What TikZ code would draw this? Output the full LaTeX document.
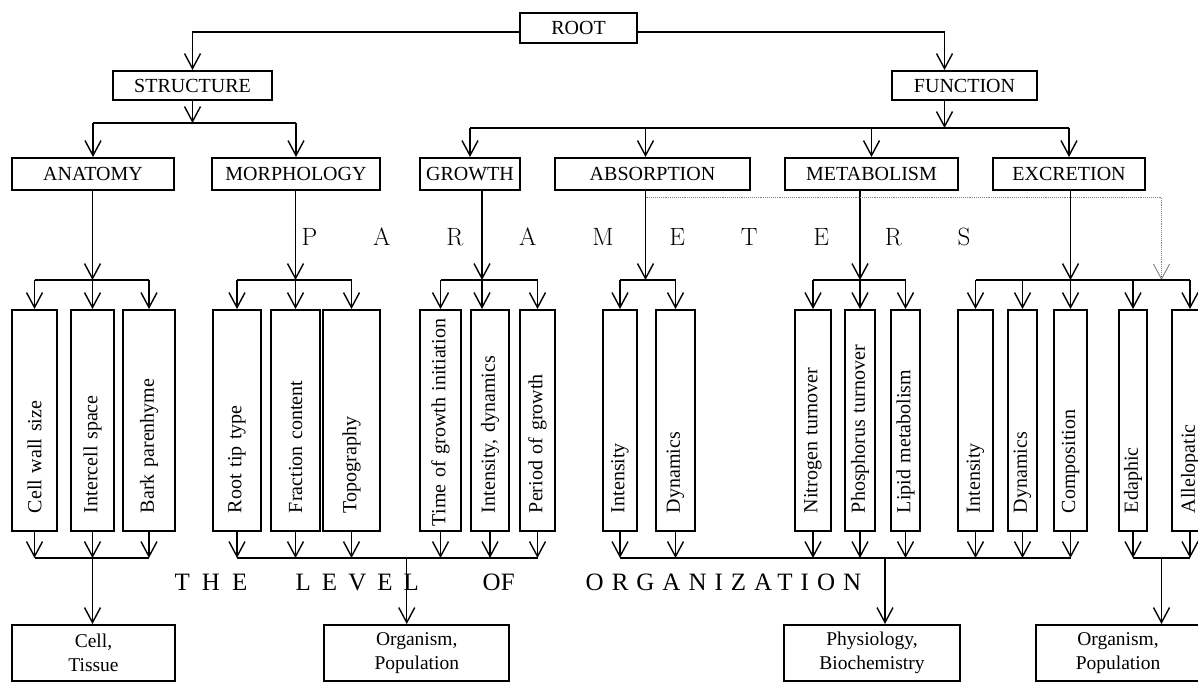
\documentclass[tikz,border=0pt]{standalone}
\usepackage{fontspec}
\newfontfamily\tnrfont{Liberation Serif}
\newcommand\pgap{\kern55.8pt}
\usetikzlibrary{arrows.meta,calc,positioning}

\begin{document}
\begin{tikzpicture}[x=1pt,y=-1pt,->,>={Straight Barb[length=15pt,width=16pt]},
                    line width=1.4pt,
                    boxed/.style={draw,-,line width=2pt,inner sep=0pt,
                      font=\tnrfont\fontsize{20}{24}\selectfont},
                    partbox/.style={boxed,minimum height=32pt},
                    parambox/.style={boxed,rotate=90,minimum width=221pt,
                      inner xsep=18pt,text width=185pt,align=left},
                    tierbox/.style={boxed,minimum height=56pt,align=center,
                      font=\tnrfont\fontsize{19.5}{24.5}\selectfont},
                    spaced/.style={anchor=base west,inner sep=0pt,
                      font=\tnrfont\fontsize{25}{30}\selectfont\addfontfeature{LetterSpace=#1}},
                    dotlink/.style={densely dotted,gray,line width=0.9pt}]
    \useasboundingbox (0,0) rectangle (1198,683);
    \clip (0,0) rectangle (1198,683);

    \node [boxed,minimum width=117pt,minimum height=30pt] (root)      at (578.5,28)  {ROOT};
    \node [boxed,minimum width=159pt,minimum height=29pt] (structure) at (192.5,85.5) {STRUCTURE};
    \node [boxed,minimum width=145pt,minimum height=29pt] (function)  at (964.5,85.5) {FUNCTION};

    \node [partbox,minimum width=162pt] (anatomy)    at (93,174)    {ANATOMY};
    \node [partbox,minimum width=168pt] (morphology) at (296,174)   {MORPHOLOGY};
    \node [partbox,minimum width=100pt] (growth)     at (470,174)   {GROWTH};
    \node [partbox,minimum width=195pt] (absorption) at (652.5,174) {ABSORPTION};
    \node [partbox,minimum width=173pt] (metabolism) at (871.5,174) {METABOLISM};
    \node [partbox,minimum width=152pt] (excretion)  at (1069,174)  {EXCRETION};

    \node [parambox,minimum height=45pt] (cellwall)    at (34.5,420.5)   {Cell wall size};
    \node [parambox,minimum height=43pt] (intercell)   at (92.5,420.5)   {Intercell space};
    \node [parambox,minimum height=52pt] (bark)        at (149,420.5)    {Bark parenhyme};
    \node [parambox,minimum height=48pt] (roottip)     at (237,420.5)    {Root tip type};
    \node [parambox,minimum height=49pt] (fraction)    at (295.5,420.5)  {Fraction content};
    \node [parambox,minimum height=57pt] (topography)  at (351.5,420.5)  {Topography};
    \node [parambox,minimum height=41pt,inner xsep=5pt,text width=211pt]
                                         (initiation)  at (440.5,420.5)  {Time of growth initiation};
    \node [parambox,minimum height=38pt] (intdyn)      at (490,420.5)    {Intensity, dynamics};
    \node [parambox,minimum height=35pt] (period)      at (537.5,420.5)  {Period of growth};
    \node [parambox,minimum height=34pt] (absint)      at (620,420.5)    {Intensity};
    \node [parambox,minimum height=39pt] (absdyn)      at (675.5,420.5)  {Dynamics};
    \node [parambox,minimum height=36pt] (nitrogen)    at (813,420.5)    {Nitrogen turnover};
    \node [parambox,minimum height=30pt] (phosphorus)  at (860,420.5)    {Phosphorus turnover};
    \node [parambox,minimum height=29pt] (lipid)       at (905.5,420.5)  {Lipid metabolism};
    \node [parambox,minimum height=35pt] (excint)      at (975.5,420.5)  {Intensity};
    \node [parambox,minimum height=29pt] (excdyn)      at (1022.5,420.5) {Dynamics};
    \node [parambox,minimum height=33pt] (composition) at (1070.5,420.5) {Composition};
    \node [parambox,minimum height=28pt] (edaphic)     at (1133,420.5)   {Edaphic};
    \node [parambox,minimum height=36pt] (allelo)      at (1190,420.5)   {Allelopatic};

    \node [tierbox,minimum width=163pt] (cell)       at (93.5,653)   {Cell,\\Tissue};
    \node [tierbox,minimum width=185pt] (organism)   at (416.75,653) {Organism,\\Population};
    \node [tierbox,minimum width=176pt] (physiology) at (872,653)    {Physiology,\\Biochemistry};
    \node [tierbox,minimum width=164pt] (organism2)  at (1118,653)   {Organism,\\Population};

    \node [anchor=base west,inner sep=0pt,font=\fontsize{25}{30}\selectfont]
           (parameters) at (301,245) {P\pgap A\pgap R\pgap A\pgap M\pgap E\pgap T\pgap E\pgap R\pgap S};
    \node [spaced=48] (the)          at (174,590) {THE};
    \node [spaced=44] (levelword)    at (295,590) {LEVEL};
    \node [spaced=0]  (of)           at (482,590) {OF};
    \node [spaced=32] (organization) at (585,590) {ORGANIZATION};

    \coordinate (sbus) at (0,123);
    \coordinate (fbus) at (0,128);
    \coordinate (dotrow) at (0,197);
    \coordinate (pbus) at (0,280);
    \coordinate (lbus) at (0,558);
    \coordinate (fx) at ([xshift=-20pt]function.north);
    \coordinate (gx) at ([xshift=12pt]growth.south);
    \coordinate (ax) at ([xshift=-7pt]absorption.south);
    \coordinate (dx) at ($(edaphic)!0.5!(allelo)$);
    \coordinate (ox) at ([xshift=-10pt]organism.north);
    \coordinate (px) at ([xshift=13pt]physiology.north);

    \draw ([yshift=-4pt]root.west) -| (structure.north);
    \draw ([yshift=-4pt]root.east) -| (fx);

    \draw (structure.south) -- (structure.south |- sbus);
    \draw [-] (anatomy.north |- sbus) -- (morphology.north |- sbus);
    \draw (anatomy.north |- sbus) -- (anatomy.north);
    \draw (morphology.north |- sbus) -- (morphology.north);

    \draw (fx |- function.south) -- (fx |- fbus);
    \draw [-] (growth.north |- fbus) -- (excretion.north |- fbus);
    \draw (growth.north |- fbus) -- (growth.north);
    \draw (ax |- fbus) -- (ax |- absorption.north);
    \draw (metabolism.north |- fbus) -- (metabolism.north);
    \draw (excretion.north |- fbus) -- (excretion.north);

    \draw (anatomy.south -| intercell) -- (intercell |- pbus);
    \draw (morphology.south -| fraction) -- (fraction |- pbus);
    \draw (gx) -- (gx |- pbus);
    \draw (ax) -- (ax |- pbus);
    \draw (metabolism.south -| phosphorus) -- (phosphorus |- pbus);
    \draw (excretion.south -| composition) -- (composition |- pbus);
    \draw [dotlink] (ax |- dotrow) -| (dx |- pbus);

    \draw [-] (cellwall.east |- pbus) -- (bark.east |- pbus);
    \draw [-] (roottip.east |- pbus) -- (topography.east |- pbus);
    \draw [-] (initiation.east |- pbus) -- (period.east |- pbus);
    \draw [-] (absint.east |- pbus) -- (absdyn.east |- pbus);
    \draw [-] (nitrogen.east |- pbus) -- (lipid.east |- pbus);
    \draw [-] (excint.east |- pbus) -- (allelo.east |- pbus);

    \draw (cellwall.east |- pbus) -- (cellwall.east);
    \draw (intercell.east |- pbus) -- (intercell.east);
    \draw (bark.east |- pbus) -- (bark.east);
    \draw (roottip.east |- pbus) -- (roottip.east);
    \draw (fraction.east |- pbus) -- (fraction.east);
    \draw (topography.east |- pbus) -- (topography.east);
    \draw (initiation.east |- pbus) -- (initiation.east);
    \draw (gx |- pbus) -- (gx |- intdyn.east);
    \draw (period.east |- pbus) -- (period.east);
    \draw (absint.east |- pbus) -- (absint.east);
    \draw (absdyn.east |- pbus) -- (absdyn.east);
    \draw (nitrogen.east |- pbus) -- (nitrogen.east);
    \draw (phosphorus.east |- pbus) -- (phosphorus.east);
    \draw (lipid.east |- pbus) -- (lipid.east);
    \draw (excint.east |- pbus) -- (excint.east);
    \draw (excdyn.east |- pbus) -- (excdyn.east);
    \draw (composition.east |- pbus) -- (composition.east);
    \draw (edaphic.east |- pbus) -- (edaphic.east);
    \draw (allelo.east |- pbus) -- (allelo.east);

    \draw (cellwall.west) -- (cellwall.west |- lbus);
    \draw (intercell.west) -- (intercell.west |- lbus);
    \draw (bark.west) -- (bark.west |- lbus);
    \draw (roottip.west) -- (roottip.west |- lbus);
    \draw (fraction.west) -- (fraction.west |- lbus);
    \draw (topography.west) -- (topography.west |- lbus);
    \draw (initiation.west) -- (initiation.west |- lbus);
    \draw (intdyn.west) -- (intdyn.west |- lbus);
    \draw (period.west) -- (period.west |- lbus);
    \draw (absint.west) -- (absint.west |- lbus);
    \draw (absdyn.west) -- (absdyn.west |- lbus);
    \draw (nitrogen.west) -- (nitrogen.west |- lbus);
    \draw (phosphorus.west) -- (phosphorus.west |- lbus);
    \draw (lipid.west) -- (lipid.west |- lbus);
    \draw (excint.west) -- (excint.west |- lbus);
    \draw (excdyn.west) -- (excdyn.west |- lbus);
    \draw (composition.west) -- (composition.west |- lbus);
    \draw (edaphic.west) -- (edaphic.west |- lbus);
    \draw (allelo.west) -- (allelo.west |- lbus);

    \draw [-] (cellwall.west |- lbus) -- (bark.west |- lbus);
    \draw [-] (roottip.west |- lbus) -- (period.west |- lbus);
    \draw [-] (absint.west |- lbus) -- (composition.west |- lbus);
    \draw [-] (edaphic.west |- lbus) -- (allelo.west |- lbus);

    \draw (intercell.west |- lbus) -- (intercell.west |- cell.north);
    \draw (ox |- lbus) -- (ox);
    \draw (px |- lbus) -- (px);
    \draw (dx |- lbus) -- (dx |- organism2.north);
\end{tikzpicture}
\end{document}
